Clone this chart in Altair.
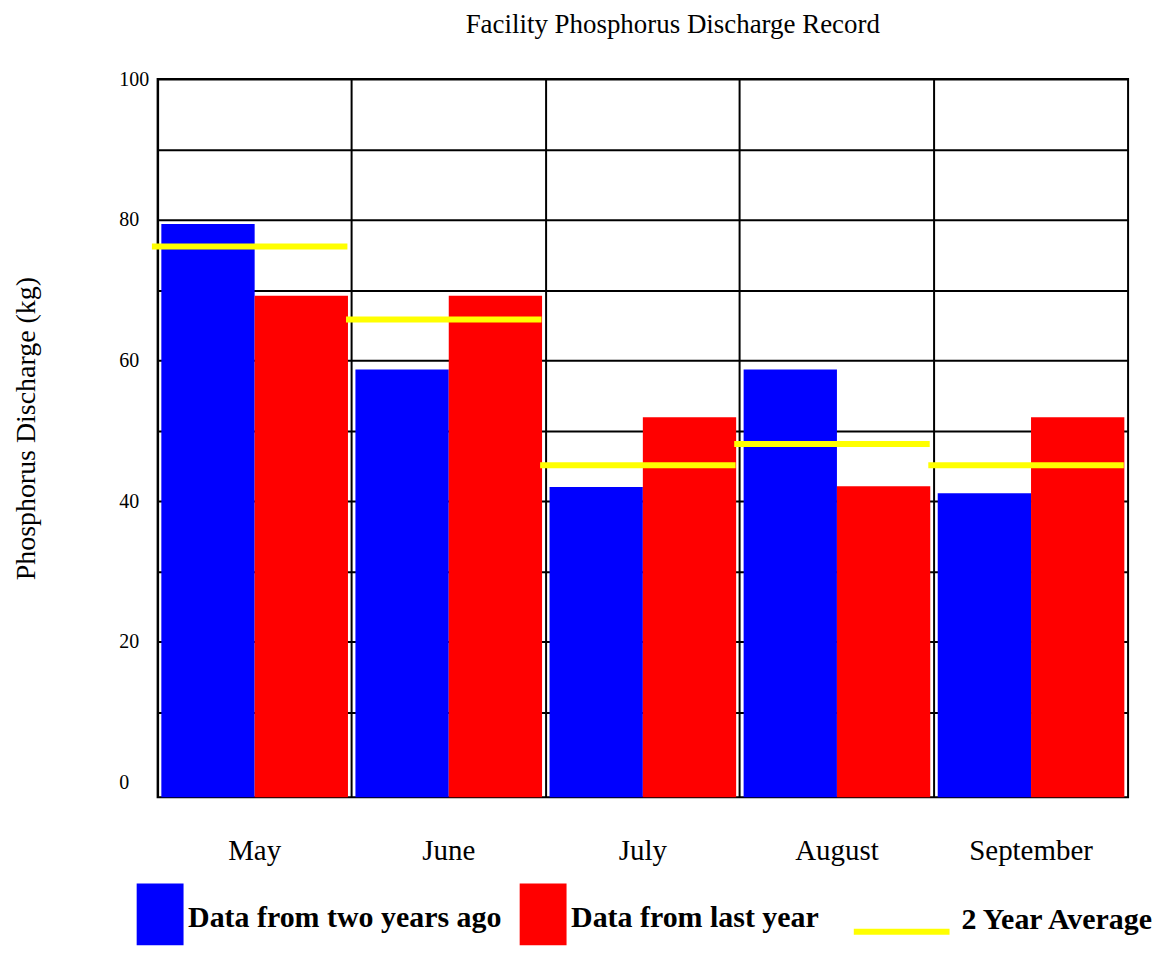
import altair as alt
import pandas as pd

# ---- data ----
months = ["May", "June", "July", "August", "September"]
two_years_ago = [79.4, 58.7, 42.0, 58.7, 41.1]
last_year = [69.2, 69.2, 51.9, 42.1, 51.9]
two_year_avg = [76.2, 65.8, 45.1, 48.1, 45.1]
series_names = ["Data from two years ago", "Data from last year"]
avg_name = "2 Year Average"
y_ticks = [0, 10, 20, 30, 40, 50, 60, 70, 80, 90, 100]
y_min, y_max = -2.1, 100

bars_df = pd.DataFrame({
    "month": months * 2,
    "series": [s for s in series_names for _ in months],
    "value": two_years_ago + last_year,
})
avg_df = pd.DataFrame({"month": months, "series": [avg_name] * len(months), "value": two_year_avg})

FONT = "Liberation Serif"

x_scale = alt.Scale(domain=months, paddingInner=0, paddingOuter=0)
x_axis = alt.Axis(
    title=None, labelAngle=0, grid=True, bandPosition=0, gridColor="black", gridWidth=2,
    domain=False, ticks=False, tickSize=0, labelFont=FONT, labelFontSize=29,
    labelColor="black", labelPadding=62, labelBaseline="alphabetic",
)
y_scale = alt.Scale(domain=[y_min, y_max], nice=False, zero=False)
y_axis = alt.Axis(
    title="Phosphorus Discharge (kg)", values=y_ticks,
    labelExpr="datum.value % 20 == 0 ? datum.label : ''",
    gridColor="black", gridWidth=2,
    gridOpacity={"condition": {"test": "datum.value === 0", "value": 0}, "value": 1},
    domain=False, ticks=False, tickSize=0, labelOverlap=False,
    labelAlign="left", labelBaseline="middle", labelPadding=39,
    labelFont=FONT, labelFontSize=20, labelColor="black",
    titleFont=FONT, titleFontSize=28, titleFontWeight="normal", titleColor="black",
    titleAngle=270, titleX=-131, titleY=350, titleAlign="center", titleBaseline="middle",
)

bar_legend = alt.Legend(
    orient="none", legendX=-31.5, legendY=810, direction="horizontal", padding=0,
    symbolType="M-0.661,-1.129H0.855V0.871H-0.661Z", symbolSize=3844,
    symbolStrokeWidth=0, symbolOpacity=1,
    labelFont=FONT, labelFontSize=30, labelFontWeight="bold", labelColor="black",
    labelLimit=0, labelOffset=0, columnPadding=7,
)
avg_legend = alt.Legend(
    orient="none", legendX=698, legendY=795, direction="horizontal", padding=0,
    symbolType="M-1,0.1875H1V0.3125H-1Z", symbolSize=9216,
    symbolStrokeWidth=0, symbolOpacity=1,
    labelFont=FONT, labelFontSize=30, labelFontWeight="bold", labelColor="black",
    labelLimit=0, labelOffset=12,
)

bars = alt.Chart(bars_df).mark_bar(strokeWidth=0, opacity=1).encode(
    x=alt.X("month:N", sort=months, scale=x_scale, axis=x_axis),
    xOffset=alt.XOffset("series:N", sort=series_names,
                        scale=alt.Scale(domain=series_names, paddingInner=0, paddingOuter=0.04)),
    y=alt.Y("value:Q", scale=y_scale, axis=y_axis),
    y2=alt.datum(y_min),
    color=alt.Color("series:N", sort=series_names,
                    scale=alt.Scale(domain=series_names, range=["#0000ff", "#ff0000"]),
                    title=None, legend=bar_legend),
)

avg = alt.Chart(avg_df).mark_tick(thickness=6, size=196, xOffset=-5, orient="horizontal", opacity=1).encode(
    x=alt.X("month:N", sort=months, scale=x_scale, axis=x_axis),
    y=alt.Y("value:Q", scale=y_scale, axis=y_axis),
    color=alt.Color("series:N", scale=alt.Scale(domain=[avg_name], range=["#ffff00"]),
                    title=None, legend=avg_legend),
)

chart = alt.layer(bars, avg).resolve_scale(color="independent").properties(
    width=973, height=720,
    title=alt.TitleParams(
        text="Facility Phosphorus Discharge Record", font=FONT, fontSize=27,
        fontWeight="normal", color="black", anchor="middle", frame="group",
        baseline="alphabetic", offset=9, dx=30,
    ),
    autosize=alt.AutoSizeParams(type="none"),
    padding={"left": 150, "top": 70, "right": 30, "bottom": 149},
    background="white",
).configure_view(stroke="black", strokeWidth=2)

chart.save("out.html", embed_options={"renderer": "svg", "actions": False})
